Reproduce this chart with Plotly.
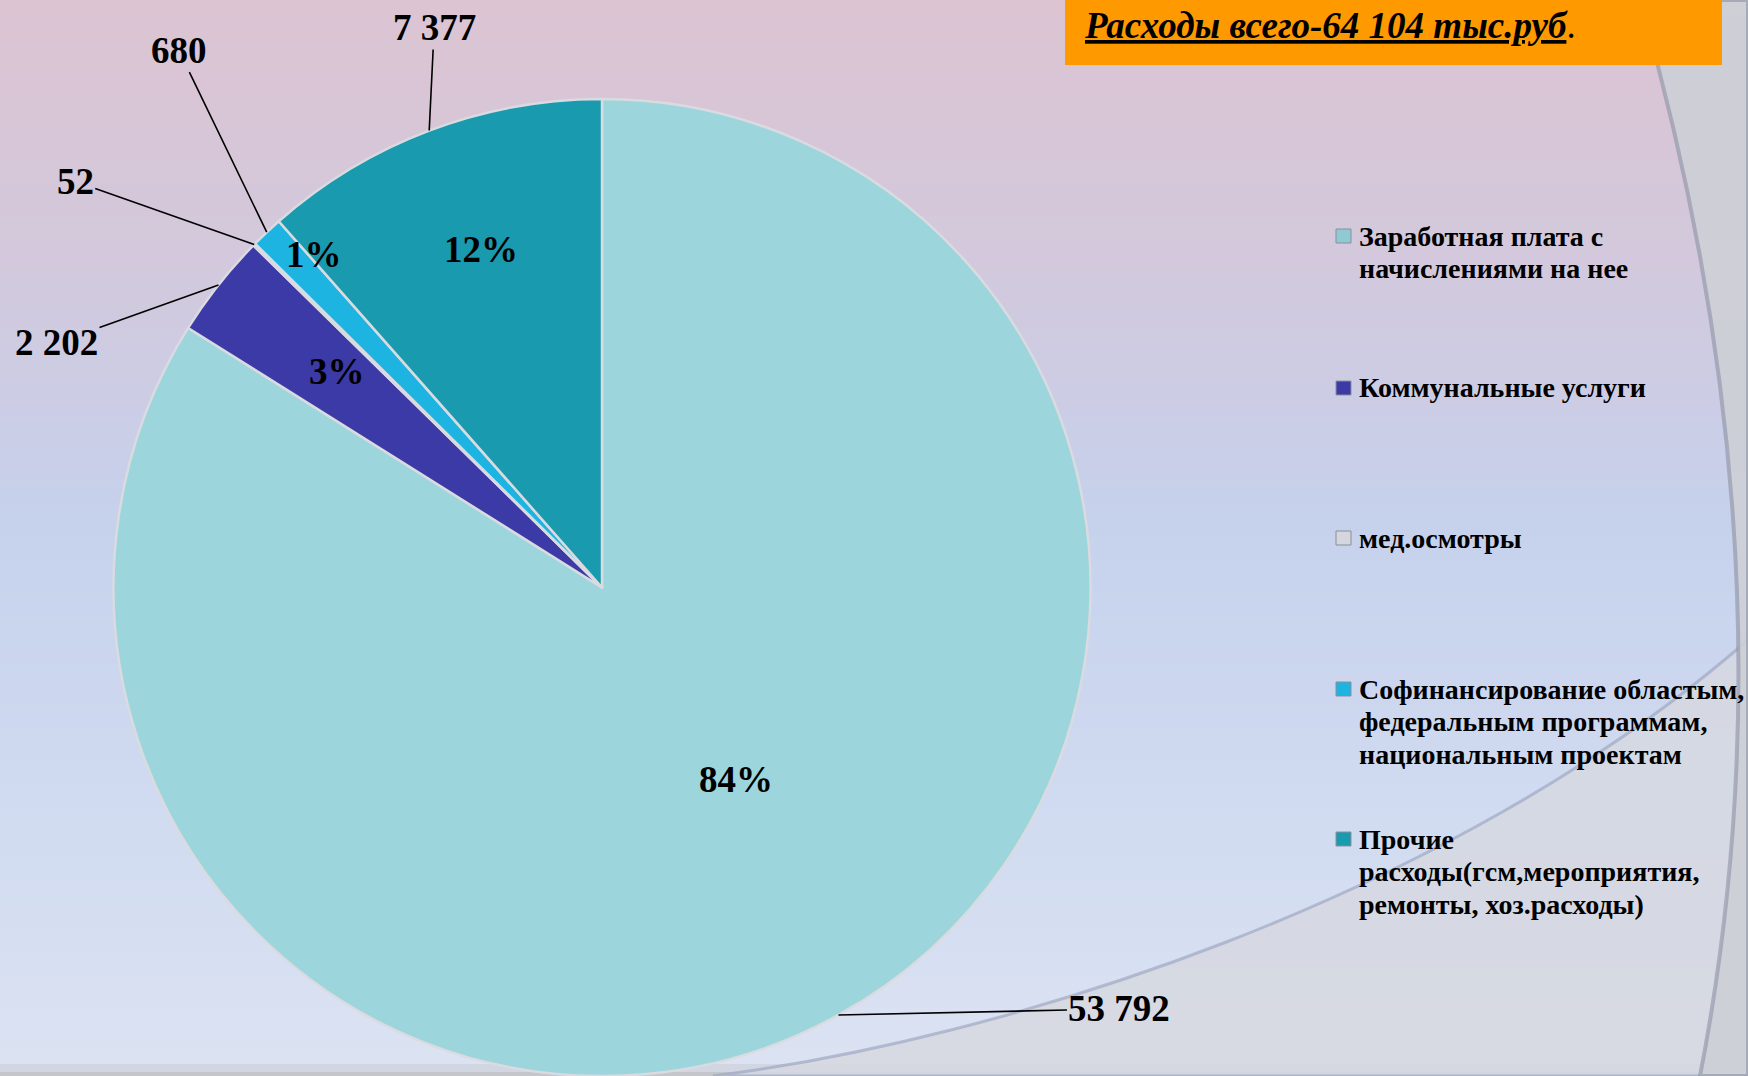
import math
import plotly.graph_objects as go

# ---------------- data ----------------
categories = [
    "Заработная плата с<br>начислениями на нее",
    "Коммунальные услуги",
    "мед.осмотры",
    "Софинансирование областым,<br>федеральным программам,<br>национальным проектам",
    "Прочие<br>расходы(гсм,мероприятия,<br>ремонты, хоз.расходы)",
]
values = [53792, 2202, 52, 680, 7377]
title_text = "Расходы всего-64 104 тыс.руб"

# ---------------- styles ----------------
W, H = 1748, 1076
colors = ["#9dd5dd", "#3c3aa6", "#cfd0d8", "#1db4e2", "#1a9aae"]
legend_marker_colors = ["#8fc9d3", "#3c3aa6", "#d6d6de", "#1db4e2", "#1a9aae"]
pct_radius = [0.48, 0.70, None, 0.90, 0.736]        # where the % text sits
pct_angle_shift = [-6, 1, 0, 2.5, 1]                 # degrees
value_label_offsets = [(281, -6), (-162, 58), (-179, -63), (-88, -182), (5, -103)]
legend_line_y = [236, 388, 538, 689, 839]            # px, centre of first text line
legend_line_gap = 32.5
serif = "Liberation Serif, Times New Roman, serif"


def px(xp):
    return xp / W


def py(yp):
    return 1 - yp / H


# pie domain (in paper units)
dom_x = [px(113), px(1091)]
dom_y = [0.0, 0.908]
cx = W * (dom_x[0] + dom_x[1]) / 2
cy = H * (1 - (dom_y[0] + dom_y[1]) / 2)
R = min(W * (dom_x[1] - dom_x[0]), H * (dom_y[1] - dom_y[0])) / 2

fig = go.Figure()

fig.add_trace(go.Pie(
    labels=[c.replace("<br>", " ") for c in categories],
    values=values,
    sort=False,
    direction="clockwise",
    rotation=0,
    marker=dict(colors=colors, line=dict(color="#d9dbe0", width=2.5)),
    textinfo="none",
    hoverinfo="label+value+percent",
    showlegend=False,
    domain=dict(x=dom_x, y=dom_y),
))

shapes = []
annotations = []

# ---------------- background gradient ----------------
stops = [(0, (220, 196, 210)), (250, (211, 200, 220)), (520, (198, 209, 236)),
         (800, (208, 219, 241)), (1062, (219, 226, 242)), (1076, (196, 198, 204))]


def bg_color(y):
    for (y0, c0), (y1, c1) in zip(stops[:-1], stops[1:]):
        if y0 <= y <= y1:
            t = (y - y0) / (y1 - y0)
            return "rgb(%d,%d,%d)" % tuple(round(a + (b - a) * t) for a, b in zip(c0, c1))
    return "rgb(%d,%d,%d)" % stops[-1][1]


band = 8
for y in range(0, H, band):
    shapes.append(dict(type="rect", xref="paper", yref="paper", layer="below",
                       x0=0, x1=1, y0=py(min(y + band + 1, H)), y1=py(y),
                       fillcolor=bg_color(y + band / 2), line=dict(width=0)))

# decorative arcs (lower-right)
lower = "M %f,%f C %f,%f %f,%f %f,%f L %f,%f Z" % (
    px(713), py(1076), px(1000), py(1040), px(1450), py(900), px(1748), py(640),
    px(1748), py(1076))
shapes.append(dict(type="path", xref="paper", yref="paper", layer="below", path=lower,
                   fillcolor="rgba(214,216,224,0.85)",
                   line=dict(color="rgba(150,160,190,0.6)", width=3)))
big = "M %f,%f Q %f,%f %f,%f L %f,%f L %f,%f Z" % (
    px(1640), py(0), px(1800), py(560), px(1700), py(1076),
    px(1748), py(1076), px(1748), py(0))
shapes.append(dict(type="path", xref="paper", yref="paper", layer="below", path=big,
                   fillcolor="rgba(205,207,214,0.92)",
                   line=dict(color="rgba(140,145,165,0.6)", width=4)))

# ---------------- title ----------------
shapes.append(dict(type="rect", xref="paper", yref="paper", layer="below",
                   x0=px(1065), x1=px(1722), y0=py(65), y1=py(0),
                   fillcolor="#ff9900", line=dict(width=0)))
annotations.append(dict(
    x=px(1082), y=py(25), xref="paper", yref="paper", xanchor="left", yanchor="middle",
    text="<b><i><u>%s</u></i></b>." % title_text, showarrow=False,
    font=dict(family=serif, size=37, color="black")))

# ---------------- labels computed from data ----------------
total = sum(values)
cum = 0
for i, v in enumerate(values):
    mid = (cum + v / 2) / total * 360.0
    cum += v
    a = math.radians(mid)
    # value label with leader line
    ex = cx + R * math.sin(a)
    ey = cy - R * math.cos(a)
    ax, ay = value_label_offsets[i]
    annotations.append(dict(
        x=px(ex), y=py(ey), xref="paper", yref="paper",
        text="<b>%s</b>" % format(v, ",").replace(",", " "),
        showarrow=True, arrowhead=0, arrowwidth=1.6, arrowcolor="black",
        ax=ax, ay=ay, standoff=0,
        font=dict(family=serif, size=37, color="black")))
    # percentage label
    if pct_radius[i] is not None:
        rr = R * pct_radius[i]
        b = math.radians(mid + pct_angle_shift[i])
        annotations.append(dict(
            x=px(cx + rr * math.sin(b)), y=py(cy - rr * math.cos(b)),
            xref="paper", yref="paper", showarrow=False,
            xanchor="center", yanchor="middle",
            text="<b>%d%%</b>" % round(v / total * 100),
            font=dict(family=serif, size=37, color="black")))

# ---------------- legend ----------------
for i, name in enumerate(categories):
    yc = legend_line_y[i]
    shapes.append(dict(type="rect", xref="paper", yref="paper", layer="above",
                       x0=px(1336), x1=px(1351), y0=py(yc + 7), y1=py(yc - 7),
                       fillcolor=legend_marker_colors[i],
                       line=dict(color="#8a8f99", width=1)))
    for j, line in enumerate(name.split("<br>")):
        annotations.append(dict(
            x=px(1357), y=py(yc + j * legend_line_gap), xref="paper", yref="paper",
            xanchor="left", yanchor="middle", align="left", showarrow=False,
            text="<b>%s</b>" % line,
            font=dict(family=serif, size=28, color="black")))

fig.update_layout(
    width=W, height=H, autosize=False,
    margin=dict(l=0, r=0, t=0, b=0),
    paper_bgcolor="#d8d0e0",
    shapes=shapes, annotations=annotations,
    showlegend=False,
)

fig.write_html(
    "out.html",
    config={"displayModeBar": False},
    post_script="document.body.style.margin='0px';document.body.style.overflow='hidden';",
)
